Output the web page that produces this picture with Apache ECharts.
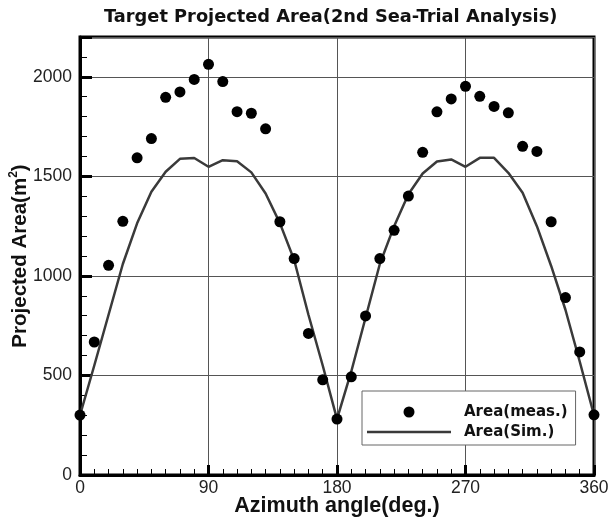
<!DOCTYPE html>
<html>
<head>
<meta charset="utf-8">
<script src="https://cdn.jsdelivr.net/npm/echarts@6/dist/echarts.min.js"></script>
<style>html,body{margin:0;padding:0;background:#fff}#c{width:609px;height:521px}</style>
</head>
<body>
<div id="c"></div>
<script>
var angles = [0,10,20,30,40,50,60,70,80,90,100,110,120,130,140,150,160,170,180,190,200,210,220,230,240,250,260,270,280,290,300,310,320,330,340,350,360];
var areaMeas = [301,668,1053,1274,1593,1690,1897,1924,1987,2063,1976,1825,1817,1739,1272,1087,711,478,281,493,799,1087,1229,1401,1621,1824,1889,1952,1902,1851,1819,1651,1625,1272,891,618,302];
var areaSim = [300,550,805,1060,1264,1423,1523,1588,1592,1548,1581,1576,1520,1414,1265,1080,805,550,281,520,790,1060,1250,1410,1514,1575,1585,1548,1593,1593,1518,1418,1250,1050,830,570,300];
var xTicks = [0,90,180,270,360];
var yTicks = [0,500,1000,1500,2000];

var FONT = '"Liberation Sans", Arial, sans-serif';
var WIDE = '"DejaVu Sans", Verdana, sans-serif';
var chart = echarts.init(document.getElementById('c'), null, {renderer:'canvas'});
chart.setOption({
  animation: false,
  backgroundColor: '#fff',
  title: {
    text: 'Target Projected Area(2nd Sea-Trial Analysis)',
    left: 104, top: 8, padding: 0,
    textStyle: {fontFamily: WIDE, fontSize: 17.8, fontWeight: 'bold', color: '#111'}
  },
  legend: {
    orient: 'vertical',
    left: 362, top: 391,
    padding: [13, 8, 5, 5],
    itemGap: 4,
    itemWidth: 84, itemHeight: 11,
    backgroundColor: '#fff',
    borderColor: '#666', borderWidth: 1,
    textStyle: {fontFamily: WIDE, fontSize: 15, fontWeight: 'bold', color: '#111', padding: [0,0,0,8], lineHeight: 16},
    data: [
      {name:'Area(meas.)'},
      {name:'Area(Sim.)', icon: 'path://M0,0L84,0L84,2.5L0,2.5Z'}
    ]
  },
  grid: {left: 80, right: 15, top: 37, bottom: 46, show: true, borderColor: '#000', borderWidth: 3,
    containLabel: false, outerBoundsMode: 'none'},
  xAxis: {
    type: 'value', min: 0, max: 360, interval: 90,
    name: 'Azimuth angle(deg.)', nameLocation: 'middle', nameGap: 20, nameMoveOverlap: false,
    nameTextStyle: {fontFamily: FONT, fontSize: 21.5, fontWeight: 'bold', color: '#111'},
    axisLine: {show: true, onZero: false, lineStyle: {color: '#000', width: 3}},
    axisTick: {show: true, inside: true, length: 10, lineStyle: {color: '#000', width: 3}},
    minorTick: {show: true, splitNumber: 9, length: 6, lineStyle: {color: '#000', width: 1}},
    axisLabel: {fontFamily: FONT, fontSize: 17.5, color: '#222', margin: 4,
      formatter: function(v){ return xTicks.indexOf(v) >= 0 ? String(v) : ''; }},
    splitLine: {show: true, lineStyle: {color: '#555', width: 1}}
  },
  yAxis: [{
    type: 'value', min: 0, max: 2200, interval: 500,
    name: 'Projected Area(m{sup|2})', nameLocation: 'middle', nameGap: 48, nameMoveOverlap: false,
    nameTextStyle: {fontFamily: FONT, fontSize: 20.5, fontWeight: 'bold', color: '#111',
      rich: {sup: {fontFamily: FONT, fontSize: 12, fontWeight: 'bold', color: '#111', verticalAlign: 'top', lineHeight: 24}}},
    axisLine: {show: true, onZero: false, lineStyle: {color: '#000', width: 3}},
    axisTick: {show: true, inside: true, length: 12, lineStyle: {color: '#000', width: 3}},
    axisLabel: {fontFamily: FONT, fontSize: 17.5, color: '#222', margin: 8,
      formatter: function(v){ return yTicks.indexOf(v) >= 0 ? String(v) : ''; }},
    splitLine: {show: true, lineStyle: {color: '#555', width: 1}}
  }, {
    type: 'value', min: 0, max: 2200, interval: 100, position: 'left',
    axisLine: {show: false},
    axisTick: {show: true, inside: true, length: 7, lineStyle: {color: '#000', width: 1}},
    axisLabel: {show: false},
    splitLine: {show: false}
  }],
  series: [{
    name: 'Area(meas.)', type: 'scatter', yAxisIndex: 0,
    symbol: 'circle', symbolSize: 11,
    itemStyle: {color: '#000', opacity: 1},
    data: angles.map(function(a,i){ return [a, areaMeas[i]]; }),
    z: 3
  }, {
    name: 'Area(Sim.)', type: 'line', yAxisIndex: 0,
    symbol: 'none', showSymbol: false,
    lineStyle: {color: '#3a3a3a', width: 2.5},
    itemStyle: {color: '#3a3a3a'},
    data: angles.map(function(a,i){ return [a, areaSim[i]]; }),
    z: 2
  }]
});
</script>
</body>
</html>
